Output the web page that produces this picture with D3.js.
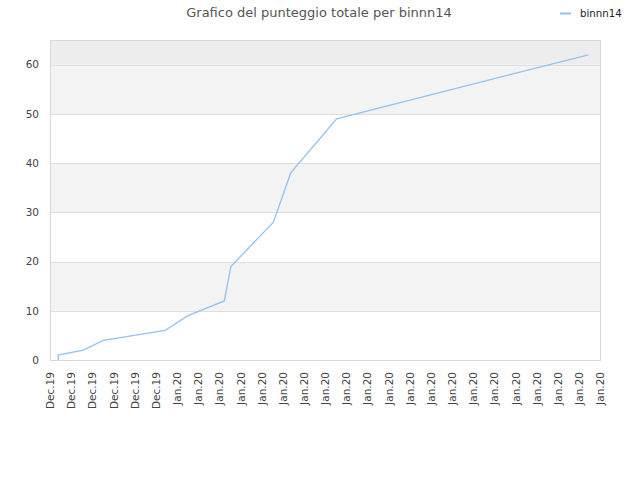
<!DOCTYPE html>
<html>
<head>
<meta charset="utf-8">
<script src="https://cdn.jsdelivr.net/npm/d3@7"></script>
<style>
  body { margin: 0; background: #fff; }
  svg { font-family: "DejaVu Sans", sans-serif; }
</style>
</head>
<body>
<svg id="chart"></svg>
<script>
// tick labels along the x axis
const xLabels = [
    'Dec.19', 'Dec.19', 'Dec.19', 'Dec.19', 'Dec.19', 'Dec.19',
    'Jan.20', 'Jan.20', 'Jan.20', 'Jan.20', 'Jan.20', 'Jan.20', 'Jan.20',
    'Jan.20', 'Jan.20', 'Jan.20', 'Jan.20', 'Jan.20', 'Jan.20', 'Jan.20',
    'Jan.20', 'Jan.20', 'Jan.20', 'Jan.20', 'Jan.20', 'Jan.20', 'Jan.20'
];
// position of each point, measured in tick steps from the first tick
const pointPos = [0.39, 0.39, 1.57, 2.52, 5.44, 6.52, 8.24, 8.55, 10.56, 11.38, 13.55, 25.45];
const scores = [0, 1, 2, 4, 6, 9, 12, 19, 28, 38, 49, 62];
const yTicks = [0, 10, 20, 30, 40, 50, 60];
const seriesName = 'binnn14';
const title = 'Grafico del punteggio totale per binnn14';

const width = 640, height = 480;
const margin = { top: 40, right: 40, bottom: 120, left: 50 };
const innerW = width - margin.left - margin.right;
const innerH = height - margin.top - margin.bottom;
const lineColor = '#92c2f2';

const svg = d3.select('#chart')
    .attr('width', width)
    .attr('height', height);

const chart = svg.append('g')
    .attr('transform', `translate(${margin.left}, ${margin.top})`);

const xscale = d3.scaleLinear()
    .domain([0, xLabels.length - 1])
    .range([0, innerW]);

const yscale = d3.scaleLinear()
    .domain([0, 65])
    .range([innerH, 0]);

// alternating bands
const bands = [[0, 10, '#ffffff'], [10, 20, '#f3f3f3'], [20, 30, '#ffffff'],
    [30, 40, '#f3f3f3'], [40, 50, '#ffffff'], [50, 60, '#f3f3f3'], [60, 65, '#ededed']];
chart.selectAll('rect.band')
    .data(bands)
    .join('rect')
    .attr('class', 'band')
    .attr('x', 0)
    .attr('width', innerW)
    .attr('y', d => yscale(d[1]))
    .attr('height', d => yscale(d[0]) - yscale(d[1]))
    .attr('fill', d => d[2]);

chart.selectAll('line.grid')
    .data(yTicks.slice(1))
    .join('line')
    .attr('class', 'grid')
    .attr('x1', 0)
    .attr('x2', innerW)
    .attr('y1', d => Math.round(yscale(d)) + 0.5)
    .attr('y2', d => Math.round(yscale(d)) + 0.5)
    .attr('stroke', '#dedede');

chart.append('rect')
    .attr('x', 0.5)
    .attr('y', 0.5)
    .attr('width', innerW)
    .attr('height', innerH)
    .attr('fill', 'none')
    .attr('stroke', '#d8d8d8');

// y axis labels
const yaxis = d3.axisLeft(yscale)
    .tickValues(yTicks)
    .tickSize(0)
    .tickPadding(11);
const yg = chart.append('g').call(yaxis);
yg.select('.domain').remove();
yg.selectAll('text')
    .attr('fill', '#444')
    .style('font-size', '10.5px')
    .style('font-family', '"DejaVu Sans", sans-serif');

// x axis labels
const xaxis = d3.axisBottom(xscale)
    .tickValues(d3.range(xLabels.length))
    .tickFormat(i => xLabels[i])
    .tickSize(0)
    .tickPadding(0);
const xg = chart.append('g')
    .attr('transform', `translate(0, ${innerH})`)
    .call(xaxis);
xg.select('.domain').remove();
xg.selectAll('text')
    .attr('fill', '#444')
    .style('font-size', '10.5px')
    .style('font-family', '"DejaVu Sans", sans-serif')
    .attr('text-anchor', 'end')
    .attr('transform', 'rotate(-90)')
    .attr('x', -12)
    .attr('y', 0)
    .attr('dy', '0.35em');

// series line
const line = d3.line()
    .x((d, i) => xscale(pointPos[i]))
    .y(d => yscale(d));

chart.append('path')
    .attr('d', line(scores))
    .attr('fill', 'none')
    .attr('stroke', lineColor)
    .attr('stroke-width', 1.3);

// title
svg.append('text')
    .attr('x', 319)
    .attr('y', 16.5)
    .attr('text-anchor', 'middle')
    .style('font-size', '13px')
    .attr('fill', '#555')
    .text(title);

// legend
svg.append('line')
    .attr('x1', 560)
    .attr('x2', 571)
    .attr('y1', 13.5)
    .attr('y2', 13.5)
    .attr('stroke', lineColor)
    .attr('stroke-width', 2);
svg.append('text')
    .attr('x', 580)
    .attr('y', 16.5)
    .style('font-size', '10.2px')
    .attr('fill', '#222')
    .text(seriesName);
</script>
</body>
</html>
